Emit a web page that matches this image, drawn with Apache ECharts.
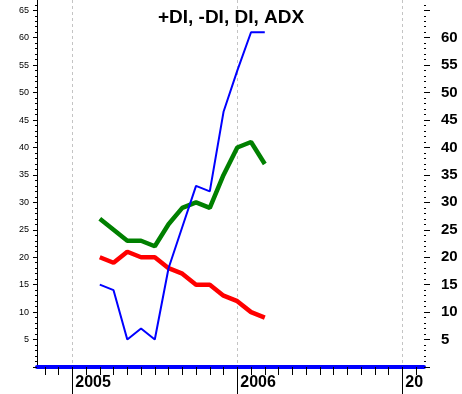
<!DOCTYPE html>
<html><head><meta charset="utf-8">
<script src="https://cdn.jsdelivr.net/npm/echarts@6/dist/echarts.min.js"></script>
<style>html,body{margin:0;padding:0;background:#fff}#c{width:462px;height:394px}</style>
</head><body><div id="c"></div>
<script>
// months counted from Jan 2004 (12 = Jan 2005); data runs Mar 2005 .. Mar 2006
const monthIndex = [14, 15, 16, 17, 18, 19, 20, 21, 22, 23, 24, 25, 26];
const greenValues = [27, 25, 23, 23, 22, 26, 29, 30, 29, 35, 40, 41, 37];
const redValues   = [20, 19, 21, 20, 20, 18, 17, 15, 15, 13, 12, 10, 9];
const blueValues  = [15, 14, 5, 7, 5, 18, 25.5, 33, 32, 46.5, 54, 61, 61];

const monthTicks = [10, 11, 12, 13, 14, 15, 16, 17, 18, 19, 20, 21, 22, 23, 24, 25, 26, 27, 28, 29, 30, 31, 32, 33, 34, 35, 36, 37];
const yearTickMonths = [12, 24, 36];
const yearTickLabels = ['2005', '2006', '20'];

const yMajorTicks = [0, 5, 10, 15, 20, 25, 30, 35, 40, 45, 50, 55, 60, 65];
const yMinorTicks = [0, 1, 2, 3, 4, 5, 6, 7, 8, 9, 10, 11, 12, 13, 14, 15, 16, 17, 18, 19, 20, 21, 22, 23, 24, 25, 26, 27, 28, 29, 30, 31, 32, 33, 34, 35, 36, 37, 38, 39, 40, 41, 42, 43, 44, 45, 46, 47, 48, 49, 50, 51, 52, 53, 54, 55, 56, 57, 58, 59, 60, 61, 62, 63, 64, 65, 66];
const yLeftLabels = [5, 10, 15, 20, 25, 30, 35, 40, 45, 50, 55, 60, 65];
const yRightLabels = [5, 10, 15, 20, 25, 30, 35, 40, 45, 50, 55, 60];

const X_MIN = 9.433, X_MAX = 37.58, Y_MIN = 0, Y_MAX = 66.87;

function pairs(vals) { return monthIndex.map((m, i) => [m, vals[i]]); }

function yAxisBase(pos) {
  return {
    type: 'value', position: pos, min: Y_MIN, max: Y_MAX,
    splitLine: { show: false }, axisLine: { show: false, onZero: false },
    axisTick: { show: false }, axisLabel: { show: false }
  };
}

const chart = echarts.init(document.getElementById('c'), null, { renderer: 'canvas' });
chart.setOption({
  animation: false,
  backgroundColor: '#ffffff',
  tooltip: { show: false },
  axisPointer: { show: false },
  title: {
    text: '+DI, -DI, DI, ADX', left: 'center', top: 3,
    textStyle: { fontFamily: 'Liberation Sans, Arial, sans-serif', fontSize: 19, fontWeight: 'bold', color: '#000' }
  },
  grid: { left: 37, right: 38, top: 0, bottom: 27, containLabel: false },
  xAxis: [
    {
      type: 'value', position: 'bottom', min: X_MIN, max: X_MAX,
      splitLine: { show: false },
      axisLine: { show: true, onZero: false, lineStyle: { color: '#0000ff', width: 4 } },
      axisTick: { show: true, customValues: monthTicks, length: 8, lineStyle: { color: '#000', width: 1 } },
      axisLabel: { show: false }
    },
    {
      type: 'value', position: 'bottom', min: X_MIN, max: X_MAX,
      splitLine: { show: true, lineStyle: { color: '#c4c4c4', type: [3, 3], width: 1 } },
      axisLine: { show: false, onZero: false },
      axisTick: { show: true, customValues: yearTickMonths, length: 28, lineStyle: { color: '#000', width: 1 } },
      axisLabel: {
        show: true, customValues: yearTickMonths, margin: 8, align: 'left',
        padding: [0, 0, 0, 3],
        formatter: v => yearTickLabels[yearTickMonths.indexOf(Math.round(v))] || '',
        fontFamily: 'Liberation Sans, Arial, sans-serif', fontSize: 16, fontWeight: 'bold', color: '#000'
      }
    }
  ],
  yAxis: [
    Object.assign(yAxisBase('left'), {
      axisLine: { show: true, onZero: false, lineStyle: { color: '#000', width: 1 } },
      axisTick: { show: true, customValues: yMajorTicks, length: 4, lineStyle: { color: '#000' } },
      axisLabel: { show: true, customValues: yLeftLabels, margin: 8, fontFamily: 'Liberation Sans, Arial, sans-serif', fontSize: 9, color: '#000' }
    }),
    Object.assign(yAxisBase('left'), {
      axisTick: { show: true, customValues: yMinorTicks, length: 2, lineStyle: { color: '#000' } }
    }),
    Object.assign(yAxisBase('right'), {
      axisTick: { show: true, customValues: yMajorTicks, length: 6, lineStyle: { color: '#000' } },
      axisLabel: { show: true, customValues: yRightLabels, margin: 17, fontFamily: 'Liberation Sans, Arial, sans-serif', fontSize: 15, fontWeight: 'bold', color: '#000' }
    }),
    Object.assign(yAxisBase('right'), {
      axisTick: { show: true, customValues: yMinorTicks, length: 2, lineStyle: { color: '#000' } }
    })
  ],
  series: [
    {
      name: 'ADX', type: 'line', xAxisIndex: 0, yAxisIndex: 0, data: pairs(greenValues),
      showSymbol: false, symbol: 'none', lineStyle: { color: '#008000', width: 4.5 }, z: 3
    },
    {
      name: '-DI', type: 'line', xAxisIndex: 0, yAxisIndex: 0, data: pairs(redValues),
      showSymbol: false, symbol: 'none', lineStyle: { color: '#ff0000', width: 4.5 }, z: 4
    },
    {
      name: '+DI', type: 'line', xAxisIndex: 0, yAxisIndex: 0, data: pairs(blueValues),
      showSymbol: false, symbol: 'none', lineStyle: { color: '#0000ff', width: 2 }, z: 5
    }
  ]
});
</script>
</body></html>
